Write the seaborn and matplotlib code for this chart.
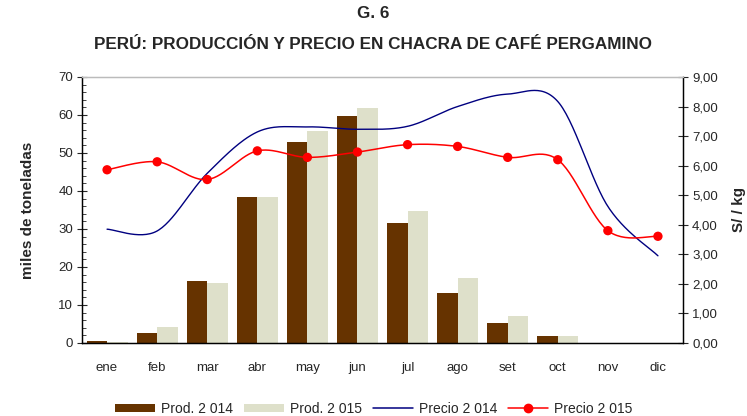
import numpy as np
import pandas as pd
import matplotlib
matplotlib.use("Agg")
import matplotlib.pyplot as plt
import seaborn as sns
from matplotlib.ticker import MultipleLocator, FixedLocator, FuncFormatter
from matplotlib.patches import Patch
from matplotlib.lines import Line2D

# ---------------- data ----------------
months = ["ene", "feb", "mar", "abr", "may", "jun", "jul", "ago", "set", "oct", "nov", "dic"]
prod_2014 = [0.4, 2.5, 16.2, 38.4, 53.0, 59.7, 31.5, 13.1, 5.2, 1.8, 0.0, 0.0]
prod_2015 = [0.3, 4.2, 15.9, 38.4, 55.8, 61.8, 34.6, 17.0, 7.1, 1.8, 0.0, 0.0]
precio_2014 = [3.85, 3.79, 5.74, 7.14, 7.31, 7.23, 7.33, 8.00, 8.42, 8.17, 4.62, 2.95]
precio_2015 = [5.86, 6.13, 5.53, 6.50, 6.28, 6.46, 6.71, 6.65, 6.28, 6.20, 3.80, 3.61]
series_labels = ["Prod. 2 014", "Prod. 2 015", "Precio 2 014", "Precio 2 015"]
title_lines = ["G. 6", "PERÚ: PRODUCCIÓN Y PRECIO EN CHACRA DE CAFÉ PERGAMINO"]

# ---------------- style ----------------
sns.set_style("white")
plt.rcParams["font.family"] = ["Liberation Sans", "DejaVu Sans"]

BROWN = "#663300"
BEIGE = "#DEE0CA"
NAVY = "#000080"
RED = "#FF0000"


def excel_smooth(y, n=30):
    """Excel-like smoothed line (cubic Bezier through points)."""
    y = np.asarray(y, float)
    x = np.arange(len(y), dtype=float)
    P = np.column_stack([x, y])
    out = []
    for i in range(len(P) - 1):
        p0 = P[i - 1] if i > 0 else P[i]
        p1 = P[i]
        p2 = P[i + 1]
        p3 = P[i + 2] if i + 2 < len(P) else P[i + 1]
        c1 = p1 + (p2 - p0) / 6.0
        c2 = p2 - (p3 - p1) / 6.0
        t = np.linspace(0, 1, n, endpoint=(i == len(P) - 2))[:, None]
        seg = ((1 - t) ** 3) * p1 + 3 * ((1 - t) ** 2) * t * c1 + 3 * (1 - t) * t ** 2 * c2 + t ** 3 * p2
        out.append(seg)
    out = np.vstack(out)
    return out[:, 0], out[:, 1]


fig = plt.figure(figsize=(7.47, 4.16), dpi=100)
ax = fig.add_axes([0.1098, 0.1755, 0.8045, 0.6395])

df = pd.DataFrame({
    "mes": months * 2,
    "valor": prod_2014 + prod_2015,
    "serie": [series_labels[0]] * 12 + [series_labels[1]] * 12,
})
sns.barplot(data=df, x="mes", y="valor", hue="serie", order=months,
            palette=[BROWN, BEIGE], width=0.82, saturation=1, ax=ax,
            legend=False, edgecolor="none", linewidth=0)

ax.set_xlim(-0.5, 11.5)
ax.set_ylim(0, 70)
ax.yaxis.set_major_locator(MultipleLocator(10))
ax.yaxis.set_minor_locator(MultipleLocator(2))
ax.set_xlabel("")
ax.set_ylabel("miles de toneladas", fontsize=11, fontweight="bold", labelpad=17)
ax.xaxis.set_major_locator(FixedLocator(np.arange(-0.5, 12, 1)))
ax.xaxis.set_minor_locator(FixedLocator(np.arange(12)))
ax.set_xticklabels([""] * 13)
ax.set_xticklabels(months, minor=True)
ax.tick_params(axis="x", which="major", direction="out", length=5, width=0.8, color="black")
ax.tick_params(axis="x", which="minor", length=0, pad=14, labelsize=9.5)
ax.tick_params(axis="y", which="major", direction="inout", length=7, width=0.8, labelsize=9.5, pad=3)
ax.tick_params(axis="y", which="minor", direction="in", length=3, width=0.6)
ax.yaxis.set_ticks_position("left")

ax2 = ax.twinx()
xs, ys = excel_smooth(precio_2014)
sns.lineplot(x=xs, y=ys, ax=ax2, color=NAVY, linewidth=1.0, sort=False, estimator=None)
xs, ys = excel_smooth(precio_2015)
sns.lineplot(x=xs, y=ys, ax=ax2, color=RED, linewidth=1.1, sort=False, estimator=None)
sns.scatterplot(x=np.arange(12), y=precio_2015, ax=ax2, color=RED, s=45,
                edgecolor="none", zorder=5)
ax2.set_ylim(0, 9)
ax2.set_xlim(-0.5, 11.5)
ax2.yaxis.set_major_locator(MultipleLocator(1))
ax2.yaxis.set_major_formatter(FuncFormatter(lambda v, p: f"{v:.2f}".replace(".", ",")))
ax2.set_ylabel("S/ / kg", fontsize=11, fontweight="bold", labelpad=10)
ax2.tick_params(axis="y", direction="inout", length=7, width=0.8, labelsize=9.5, pad=3)

for a in (ax, ax2):
    for s in ["left", "right", "bottom"]:
        a.spines[s].set_color("black")
        a.spines[s].set_linewidth(0.9)
    a.spines["top"].set_color("#BBBBBB")
    a.spines["top"].set_linewidth(0.9)

fig.text(0.5, 0.968, title_lines[0], ha="center", va="center", fontsize=12.3, fontweight="bold")
fig.text(0.5, 0.893, title_lines[1], ha="center", va="center", fontsize=12.3, fontweight="bold")

handles = [
    Patch(facecolor=BROWN, edgecolor="none"),
    Patch(facecolor=BEIGE, edgecolor="none"),
    Line2D([], [], color=NAVY, linewidth=1.1),
    Line2D([], [], color=RED, linewidth=1.1, marker="o", markersize=6),
]
fig.legend(handles, series_labels, loc="center", bbox_to_anchor=(0.5, 0.017), ncol=4,
           frameon=False, fontsize=10, handlelength=2.9, handleheight=0.6,
           columnspacing=0.8, handletextpad=0.4)

fig.savefig("out.png", dpi=100)
